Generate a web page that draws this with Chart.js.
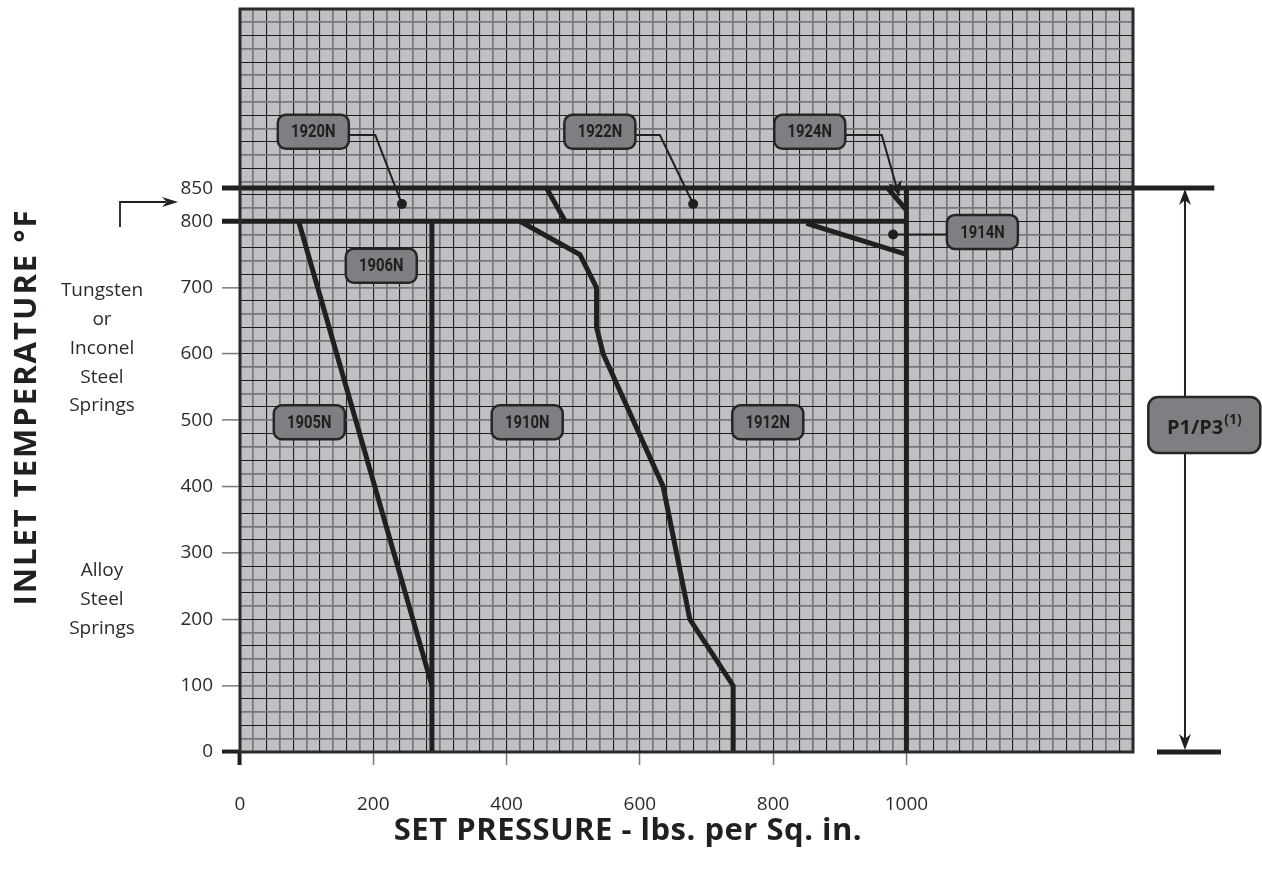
<!DOCTYPE html>
<html>
<head>
<meta charset="utf-8">
<script src="https://cdn.jsdelivr.net/npm/chart.js@4"></script>
<style>
  html, body { margin: 0; background: #fff; }
  #wrap { width: 1262px; height: 871px; }
</style>
</head>
<body>
<div id="wrap"><canvas id="chart"></canvas></div>
<script>
// axis ranges and labelled ticks
const X_MAX = 1340, Y_MAX = 1120, GRID = 20;
const xLabels = [0, 200, 400, 600, 800, 1000];
const yLabels = [0, 100, 200, 300, 400, 500, 600, 700, 800, 850];

// heavy boundary lines (pressure, temperature)
const limit850 = [[1462, 850], [-27, 850]];
const limit800 = [[1000, 800], [-27, 800]];
const wall1000 = [[1000, 850], [1000, 0]];
const wall288 = [[288, 800], [288, 0]];
const edge1905 = [[88, 800], [288, 100]];
const edge1910 = [[420, 800], [510, 750], [535, 700], [535, 640], [545, 600], [635, 400], [675, 200], [740, 100], [740, 0]];
const edge1920 = [[460, 850], [488, 800]];
const edge1914 = [[850, 797], [1000, 750]];
const edge1924 = [[972, 850], [1000, 817]];
const baseP = [[1472, 0], [1376, 0]];

// model callouts (centre of each box, data units)
const boxNames = ['1920N', '1922N', '1924N', '1906N', '1914N', '1905N', '1910N', '1912N'];
const boxX = [110, 540, 855, 212, 1114, 104, 431, 792];
const boxY = [935, 935, 935, 733, 784, 497, 497, 497];

// leader lines and their dots
const lead1920 = [[165, 930], [203, 930], [243, 826]];
const lead1922 = [[594, 930], [630, 930], [680, 826]];
const lead1924 = [[908, 930], [963, 930], [989, 838]];
const lead1914 = [[1061, 780], [980, 780]];
const leaderDots = [[243, 826], [680, 826], [980, 780]];

// P1/P3 span
const spanX = 1418, spanTop = 850, spanBottom = 0;
const spanBox = [1447, 493];

const INK = '#231f20';
const pts = a => a.map(([x, y]) => ({ x, y }));
const heavy = d => ({ data: pts(d), borderColor: INK, borderWidth: 5, pointRadius: 0, clip: false,
  borderJoinStyle: 'miter', borderCapStyle: 'butt', tension: 0 });
const thin = d => ({ data: pts(d), borderColor: INK, borderWidth: 2, pointRadius: 0, clip: false, tension: 0 });

function range(a, b, s) { const r = []; for (let v = a; v <= b; v += s) r.push(v); return r; }
function gridColor(v) { return v % 40 === 0 ? '#1c1c1c' : '#78787c'; }
function gridWidth(v) { return v % 40 === 0 ? 1.1 : 1.7; }
function noPad(s) { s.paddingTop = 0; s.paddingBottom = 0; s.paddingLeft = 0; s.paddingRight = 0; }

function roundBox(ctx, x, y, w, h, r) {
  ctx.beginPath();
  ctx.moveTo(x + r, y);
  ctx.arcTo(x + w, y, x + w, y + h, r);
  ctx.arcTo(x + w, y + h, x, y + h, r);
  ctx.arcTo(x, y + h, x, y, r);
  ctx.arcTo(x, y, x + w, y, r);
  ctx.closePath();
}
function label(ctx, cx, cy, w, h, text) {
  roundBox(ctx, cx - w / 2, cy - h / 2, w, h, 8);
  ctx.fillStyle = '#7e7f83'; ctx.fill();
  ctx.lineWidth = 2.5; ctx.strokeStyle = '#262626'; ctx.stroke();
  ctx.save();
  ctx.translate(cx, cy + 1); ctx.scale(0.78, 1);
  ctx.fillStyle = '#1e1e1e'; ctx.font = 'bold 19px Roboto, sans-serif';
  ctx.textAlign = 'center'; ctx.textBaseline = 'middle';
  ctx.fillText(text, 0, 0);
  ctx.restore();
}
function arrowHead(ctx, x, y, ang, len, half) {
  ctx.save(); ctx.translate(x, y); ctx.rotate(ang);
  ctx.beginPath(); ctx.moveTo(0, 0); ctx.lineTo(-len, -half); ctx.lineTo(-len * 0.7, 0); ctx.lineTo(-len, half);
  ctx.closePath(); ctx.fillStyle = INK; ctx.fill(); ctx.restore();
}

const paper = {
  id: 'paper',
  beforeDraw(chart) {
    const { ctx, chartArea: a } = chart;
    ctx.save();
    ctx.fillStyle = '#bfc0c4';
    ctx.fillRect(a.left, a.top, a.right - a.left, a.bottom - a.top);
    ctx.restore();
  },
  afterDatasetsDraw(chart) {
    const { ctx, chartArea: a, scales: { x, y } } = chart;
    ctx.save();
    // plot frame
    ctx.lineWidth = 3; ctx.strokeStyle = '#2a2a2a';
    ctx.strokeRect(a.left, a.top, a.right - a.left, a.bottom - a.top);

    // 1924N leader arrow
    const [ax0, ay0] = lead1924[1], [ax1, ay1] = lead1924[2];
    const p0 = [x.getPixelForValue(ax0), y.getPixelForValue(ay0)];
    const p1 = [x.getPixelForValue(ax1), y.getPixelForValue(ay1)];
    arrowHead(ctx, p1[0], p1[1], Math.atan2(p1[1] - p0[1], p1[0] - p0[0]), 15, 7);

    // P1/P3 double arrow
    const sx = x.getPixelForValue(spanX), st = y.getPixelForValue(spanTop), sb = y.getPixelForValue(spanBottom);
    ctx.lineWidth = 2; ctx.strokeStyle = INK;
    ctx.beginPath(); ctx.moveTo(sx, st + 6); ctx.lineTo(sx, sb - 6); ctx.stroke();
    arrowHead(ctx, sx, st + 1, -Math.PI / 2, 16, 6);
    arrowHead(ctx, sx, sb - 2, Math.PI / 2, 16, 6);

    // callout boxes
    boxNames.forEach((n, i) => label(ctx, x.getPixelForValue(boxX[i]), y.getPixelForValue(boxY[i]), 71, 34, n));

    const bx = x.getPixelForValue(spanBox[0]), by = y.getPixelForValue(spanBox[1]);
    roundBox(ctx, bx - 56, by - 28, 112, 56, 10);
    ctx.fillStyle = '#7e7f83'; ctx.fill();
    ctx.lineWidth = 2.5; ctx.strokeStyle = '#262626'; ctx.stroke();
    ctx.fillStyle = '#1e1e1e'; ctx.textBaseline = 'alphabetic';
    ctx.font = 'bold 20px "Open Sans", sans-serif';
    const mainW = ctx.measureText('P1/P3').width;
    ctx.font = 'bold 14px "Open Sans", sans-serif';
    const supW = ctx.measureText('(1)').width;
    const tx = bx - (mainW + supW + 1) / 2;
    ctx.textAlign = 'left';
    ctx.font = 'bold 20px "Open Sans", sans-serif';
    ctx.fillText('P1/P3', tx, by + 9);
    ctx.font = 'bold 14px "Open Sans", sans-serif';
    ctx.fillText('(1)', tx + mainW + 1, by - 1);

    // side notes
    ctx.fillStyle = '#2b2b2b'; ctx.textAlign = 'center'; ctx.textBaseline = 'middle';
    ctx.font = '19px "Open Sans", sans-serif';
    [['Tungsten', 291], ['or', 320], ['Inconel', 349], ['Steel', 378], ['Springs', 406],
     ['Alloy', 571], ['Steel', 600], ['Springs', 629]].forEach(([t, ty]) => ctx.fillText(t, 102, ty));

    // bent arrow pointing to the 800-850 band
    ctx.lineWidth = 1.8; ctx.strokeStyle = INK;
    ctx.beginPath(); ctx.moveTo(120, 227); ctx.lineTo(120, 202); ctx.lineTo(166, 202); ctx.stroke();
    arrowHead(ctx, 178, 202, 0, 16, 5);

    // axis titles
    ctx.fillStyle = INK;
    ctx.font = 'bold 31px "Open Sans", sans-serif';
    ctx.letterSpacing = '0.5px';
    ctx.fillText('SET PRESSURE - lbs. per Sq. in.', 628, 831);
    ctx.letterSpacing = '2px';
    ctx.translate(27, 407); ctx.rotate(-Math.PI / 2);
    ctx.fillText('INLET TEMPERATURE °F', 0, 0);
    ctx.restore();
  }
};

new Chart(document.getElementById('chart'), {
  type: 'line',
  data: {
    datasets: [
      heavy(limit850), heavy(limit800), heavy(wall1000), heavy(wall288),
      heavy(edge1905), heavy(edge1910), heavy(edge1920), heavy(edge1914), heavy(edge1924), heavy(baseP),
      thin(lead1920), thin(lead1922), thin(lead1924), thin(lead1914),
      { data: pts(leaderDots), showLine: false, pointRadius: 5, pointBackgroundColor: INK,
        pointBorderWidth: 0, clip: false }
    ]
  },
  options: {
    responsive: true,
    maintainAspectRatio: false,
    animation: false,
    layout: { padding: { top: 9, right: 129, left: 0, bottom: 0 } },
    plugins: { legend: { display: false }, tooltip: { enabled: false } },
    scales: {
      x: {
        type: 'linear', min: 0, max: X_MAX,
        afterBuildTicks: s => { s.ticks = range(0, X_MAX, GRID).map(v => ({ value: v })); },
        afterFit: s => { s.height = 119; noPad(s); },
        border: { display: false },
        grid: {
          color: c => gridColor(c.tick.value),
          lineWidth: c => gridWidth(c.tick.value),
          tickLength: 13,
          tickColor: c => c.tick.value === 0 ? INK : (xLabels.includes(c.tick.value) ? '#7a7a7a' : 'transparent'),
          tickWidth: c => c.tick.value === 0 ? 4 : 1.5
        },
        ticks: {
          autoSkip: false, maxRotation: 0, padding: 28, color: '#2b2b2b',
          font: { family: '"Open Sans", sans-serif', size: 19 },
          callback: v => xLabels.includes(v) ? String(v) : ''
        }
      },
      y: {
        type: 'linear', min: 0, max: Y_MAX,
        afterBuildTicks: s => { s.ticks = range(0, Y_MAX, GRID).concat([850]).sort((a, b) => a - b).map(v => ({ value: v })); },
        afterFit: s => { s.width = 240; noPad(s); },
        border: { display: false },
        grid: {
          color: c => c.tick.value === 850 ? 'transparent' : gridColor(c.tick.value),
          lineWidth: c => gridWidth(c.tick.value),
          tickLength: 18,
          tickColor: c => c.tick.value === 0 ? INK : (c.tick.value < 800 && yLabels.includes(c.tick.value) ? '#7a7a7a' : 'transparent'),
          tickWidth: c => c.tick.value === 0 ? 4 : 1.5
        },
        ticks: {
          autoSkip: false, padding: 9, color: '#2b2b2b',
          font: { family: '"Open Sans", sans-serif', size: 19 },
          callback: v => yLabels.includes(v) ? String(v) : ''
        }
      }
    }
  },
  plugins: [paper]
});
</script>
</body>
</html>
